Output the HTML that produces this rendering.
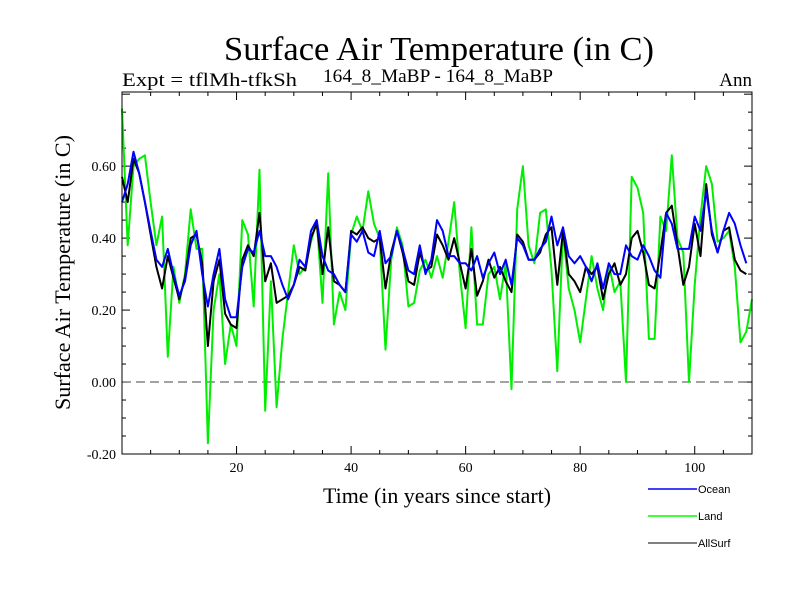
<!DOCTYPE html>
<html><head><meta charset="utf-8"><style>body{margin:0;background:#fff}svg{display:block}</style></head>
<body>
<svg id="c" width="800" height="600" xmlns="http://www.w3.org/2000/svg">
<rect width="800" height="600" fill="#fff"/>
<text x="224" y="60" font-family="Liberation Serif, serif" font-size="34" textLength="430" lengthAdjust="spacingAndGlyphs">Surface Air Temperature (in C)</text>
<text x="122" y="86" font-family="Liberation Serif, serif" font-size="19" textLength="175" lengthAdjust="spacingAndGlyphs">Expt = tflMh-tfkSh</text>
<text x="323" y="82" font-family="Liberation Serif, serif" font-size="19" textLength="230" lengthAdjust="spacingAndGlyphs">164_8_MaBP - 164_8_MaBP</text>
<text x="752" y="86" font-family="Liberation Serif, serif" font-size="19" text-anchor="end">Ann</text>
<text x="323" y="503" font-family="Liberation Serif, serif" font-size="22" textLength="228" lengthAdjust="spacingAndGlyphs">Time (in years since start)</text>
<text transform="translate(70,410) rotate(-90)" font-family="Liberation Serif, serif" font-size="22" textLength="275" lengthAdjust="spacingAndGlyphs">Surface Air Temperature (in C)</text>
<g id="axes"></g>
<g id="series"></g>
<rect x="122" y="92" width="630" height="362" fill="none" stroke="#000" stroke-width="1"/>
<g font-family="Liberation Sans, sans-serif" font-size="11">
<line x1="648" y1="489" x2="697" y2="489" stroke="#0000ff" stroke-width="1.5"/>
<text x="698" y="493">Ocean</text>
<line x1="648" y1="516" x2="697" y2="516" stroke="#00ff00" stroke-width="1.5"/>
<text x="698" y="520">Land</text>
<line x1="648" y1="543" x2="697" y2="543" stroke="#000" stroke-width="1"/>
<text x="698" y="547">AllSurf</text>
</g>
</svg>
<script>
const ocean=[0.50,0.55,0.64,0.58,0.50,0.42,0.34,0.32,0.37,0.30,0.24,0.28,0.38,0.42,0.30,0.21,0.30,0.37,0.23,0.18,0.18,0.32,0.37,0.36,0.42,0.35,0.35,0.32,0.27,0.23,0.27,0.34,0.32,0.42,0.45,0.35,0.31,0.30,0.27,0.25,0.41,0.39,0.42,0.36,0.35,0.42,0.33,0.35,0.42,0.37,0.31,0.30,0.38,0.30,0.34,0.45,0.42,0.35,0.35,0.33,0.33,0.31,0.35,0.29,0.33,0.36,0.30,0.34,0.27,0.40,0.38,0.34,0.34,0.37,0.39,0.46,0.38,0.43,0.35,0.33,0.35,0.32,0.28,0.33,0.26,0.33,0.30,0.30,0.38,0.35,0.34,0.38,0.35,0.31,0.29,0.47,0.44,0.37,0.37,0.37,0.46,0.42,0.53,0.42,0.36,0.42,0.47,0.44,0.38,0.33];
const land=[0.76,0.38,0.60,0.62,0.63,0.50,0.38,0.46,0.07,0.32,0.22,0.30,0.48,0.37,0.37,-0.17,0.20,0.30,0.05,0.16,0.10,0.45,0.41,0.21,0.59,-0.08,0.28,-0.07,0.12,0.25,0.38,0.30,0.32,0.39,0.45,0.22,0.58,0.16,0.25,0.20,0.41,0.46,0.42,0.53,0.44,0.40,0.09,0.34,0.43,0.38,0.21,0.22,0.31,0.34,0.29,0.35,0.29,0.39,0.50,0.30,0.15,0.43,0.16,0.16,0.30,0.32,0.23,0.33,-0.02,0.48,0.60,0.38,0.33,0.47,0.48,0.31,0.03,0.42,0.26,0.20,0.11,0.23,0.35,0.26,0.20,0.33,0.25,0.28,0.00,0.57,0.54,0.47,0.12,0.12,0.46,0.42,0.63,0.40,0.36,0.00,0.27,0.46,0.60,0.55,0.39,0.40,0.42,0.32,0.11,0.14,0.23];
const allsurf=[0.57,0.50,0.62,0.58,0.50,0.41,0.32,0.26,0.35,0.29,0.23,0.29,0.40,0.41,0.33,0.10,0.28,0.34,0.19,0.16,0.15,0.34,0.38,0.35,0.47,0.28,0.33,0.22,0.23,0.24,0.27,0.32,0.31,0.40,0.44,0.30,0.43,0.28,0.27,0.25,0.42,0.41,0.43,0.40,0.39,0.40,0.26,0.36,0.42,0.36,0.28,0.27,0.36,0.31,0.32,0.41,0.38,0.34,0.40,0.33,0.26,0.37,0.24,0.28,0.34,0.29,0.32,0.28,0.25,0.41,0.39,0.34,0.34,0.36,0.41,0.43,0.27,0.42,0.30,0.28,0.25,0.32,0.30,0.32,0.23,0.30,0.33,0.27,0.30,0.40,0.42,0.36,0.27,0.26,0.36,0.47,0.49,0.38,0.27,0.32,0.44,0.35,0.55,0.41,0.36,0.42,0.43,0.34,0.31,0.30];
const yTicks=[-0.20,0.00,0.20,0.40,0.60];
const xTicks=[20,40,60,80,100];
const NS="http://www.w3.org/2000/svg";
const X0=122,X1=752,Y0=454,Y1=92,xmin=0,xmax=110,ymin=-0.2,ymax=0.806;
function sx(v){return X0+(v-xmin)/(xmax-xmin)*(X1-X0);}
function sy(v){return Y0-(v-ymin)/(ymax-ymin)*(Y0-Y1);}
function mk(t,a,p){const e=document.createElementNS(NS,t);for(const k in a)e.setAttribute(k,a[k]);p.appendChild(e);return e;}
const ax=document.getElementById('axes');
for(let v=-0.2;v<=0.8001;v+=0.05){const y=sy(v);const major=Math.abs(Math.round(v*100)%20)===0;
const l=mk('line',{x1:X0,x2:X0+(major?8:4),y1:y,y2:y,stroke:'#000'},ax);


const r=mk('line',{x1:X1,x2:X1-(major?8:4),y1:y,y2:y,stroke:'#000'},ax);

}
yTicks.forEach(v=>{const t=mk('text',{x:X0-6,y:sy(v)+5,'text-anchor':'end','font-family':'Liberation Serif, serif','font-size':'14'},ax);t.textContent=v.toFixed(2);

});
for(let v=5;v<=110;v+=5){const x=sx(v);const major=v%20===0;
const l=mk('line',{x1:x,x2:x,y1:Y0,y2:Y0-(major?8:4),stroke:'#000'},ax);


const u=mk('line',{x1:x,x2:x,y1:Y1,y2:Y1+(major?8:4),stroke:'#000'},ax);

}
xTicks.forEach(v=>{const t=mk('text',{x:sx(v),y:Y0+18,'text-anchor':'middle','font-family':'Liberation Serif, serif','font-size':'14'},ax);t.textContent=v;

});
const z=mk('line',{x1:X0,x2:X1,y1:sy(0),y2:sy(0),stroke:'#444','stroke-dasharray':'9,5'},ax);


const sg=document.getElementById('series');
function line(d,c,w,name){const p=d.map((v,i)=>sx(i).toFixed(1)+','+sy(v).toFixed(1)).join(' ');
const e=mk('polyline',{points:p,fill:'none',stroke:c,'stroke-width':w,'stroke-linejoin':'round'},sg);

}
line(land,'#00ee00',2,'land-line');
line(allsurf,'#000',2,'allsurf-line');
line(ocean,'#0000ff',2,'ocean-line');
</script>
</body></html>
